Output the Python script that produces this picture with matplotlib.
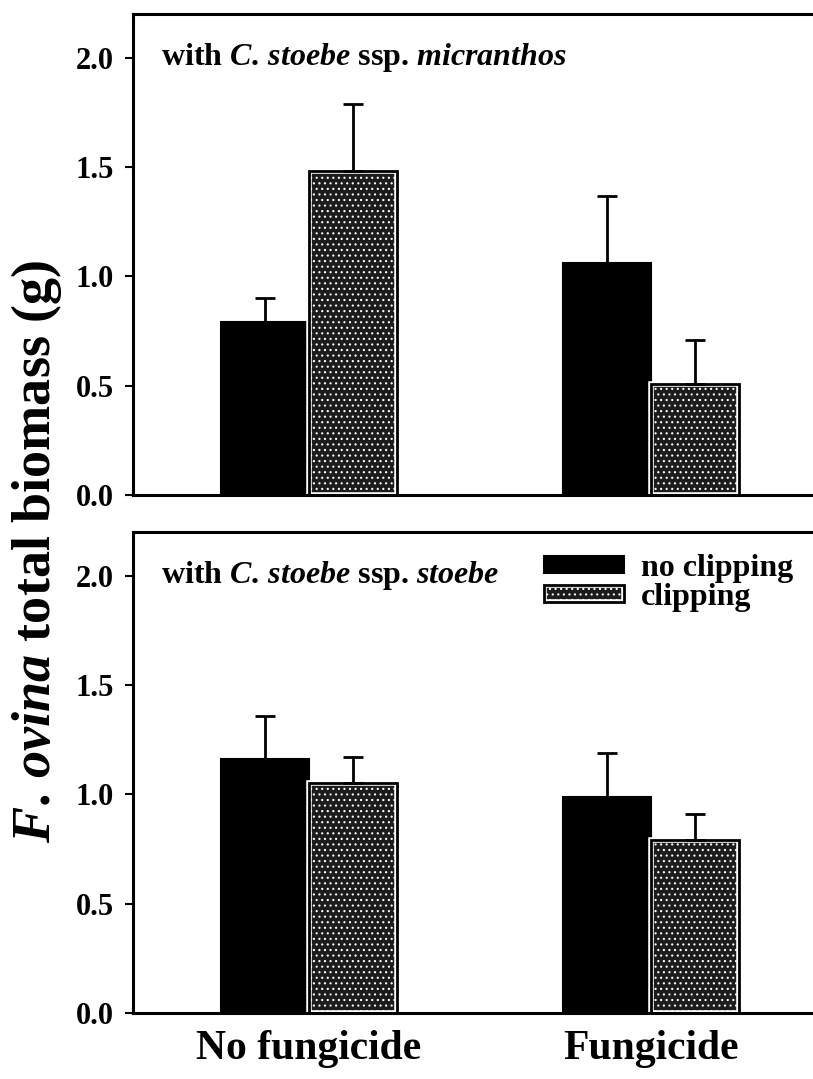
import matplotlib
matplotlib.use("Agg")
import matplotlib.pyplot as plt
import numpy as np

plt.rcParams['font.family'] = ['Liberation Serif', 'DejaVu Serif']
plt.rcParams['font.weight'] = 'bold'
plt.rcParams['mathtext.fontset'] = 'custom'
plt.rcParams['mathtext.rm'] = 'Liberation Serif:bold'
plt.rcParams['mathtext.it'] = 'Liberation Serif:italic:bold'
plt.rcParams['mathtext.bf'] = 'Liberation Serif:bold'
plt.rcParams['hatch.linewidth'] = 0.8

# --- data ---
groups = ["No fungicide", "Fungicide"]
treatments = ["no clipping", "clipping"]
panel_titles = [r"with $\mathit{C.\,stoebe}$ ssp. $\mathit{micranthos}$",
                r"with $\mathit{C.\,stoebe}$ ssp. $\mathit{stoebe}$"]

# top panel: with C. stoebe ssp. micranthos
micr_noclip = [0.79, 1.06]
micr_noclip_se = [0.11, 0.31]
micr_clip = [1.48, 0.51]
micr_clip_se = [0.31, 0.20]

# bottom panel: with C. stoebe ssp. stoebe
stoe_noclip = [1.16, 0.99]
stoe_noclip_se = [0.20, 0.20]
stoe_clip = [1.05, 0.79]
stoe_clip_se = [0.12, 0.12]

yticks = [0.0, 0.5, 1.0, 1.5, 2.0]

# --- plotting ---
fig = plt.figure(figsize=(8.13, 10.79), dpi=100)
ax_top = fig.add_axes([0.1636, 0.5412, 0.8364, 0.4458])
ax_bot = fig.add_axes([0.1636, 0.0612, 0.8364, 0.4458])

x = np.arange(len(groups))
w = 0.257
clip_face = "#1c1c1c"


def draw_panel(ax, noclip, noclip_se, clip, clip_se, title):
    b1 = ax.bar(x - w/2, noclip, w, color="black", edgecolor="black", lw=1.5, zorder=2)
    b2 = ax.bar(x + w/2, clip, w, color=clip_face, edgecolor="white", hatch="...",
                lw=4, zorder=2)
    b3 = ax.bar(x + w/2, clip, w, fill=False, edgecolor="black", lw=2, zorder=3)
    ax.errorbar(x - w/2, noclip, yerr=[np.zeros(len(x)), noclip_se], fmt="none",
                ecolor="black", elinewidth=2, capsize=7, capthick=2, zorder=4)
    ax.errorbar(x + w/2, clip, yerr=[np.zeros(len(x)), clip_se], fmt="none",
                ecolor="black", elinewidth=2, capsize=7, capthick=2, zorder=4)
    ax.set_ylim(0, 2.2)
    ax.set_xlim(-0.515, 1.474)
    ax.set_yticks(yticks)
    ax.set_yticklabels([f"{t:.1f}" for t in yticks], fontsize=22, fontweight="bold")
    ax.tick_params(axis="y", direction="out", length=6, width=1.5, pad=8)
    ax.tick_params(axis="x", length=0)
    for s in ["left", "top", "bottom"]:
        ax.spines[s].set_linewidth(2.2)
    ax.spines["right"].set_visible(False)
    ax.text(0.041, 2.0, title, transform=ax.get_yaxis_transform(),
            fontsize=23, fontweight="bold", va="center", ha="left")
    return b1, b2, b3


draw_panel(ax_top, micr_noclip, micr_noclip_se, micr_clip, micr_clip_se, panel_titles[0])
h1, h2, h3 = draw_panel(ax_bot, stoe_noclip, stoe_noclip_se, stoe_clip, stoe_clip_se,
                        panel_titles[1])

ax_top.set_xticks([])
ax_bot.set_xticks(x)
ax_bot.set_xticklabels(groups, fontsize=30, fontweight="bold")
ax_bot.tick_params(axis="x", pad=12)

ax_bot.legend([h1, (h2, h3)], treatments, loc="upper left", bbox_to_anchor=(0.604, 0.955),
              frameon=False, borderpad=0, borderaxespad=0,
              handlelength=2.5, handleheight=0.45, handletextpad=0.55,
              labelspacing=0.0, prop={"weight": "bold", "size": 23})

fig.text(0.045, 0.489, r"$\mathit{F.\,ovina}$ total biomass (g)", rotation=90,
         fontsize=39, fontweight="bold", va="center", ha="center")

fig.savefig("out.png", dpi=100)
